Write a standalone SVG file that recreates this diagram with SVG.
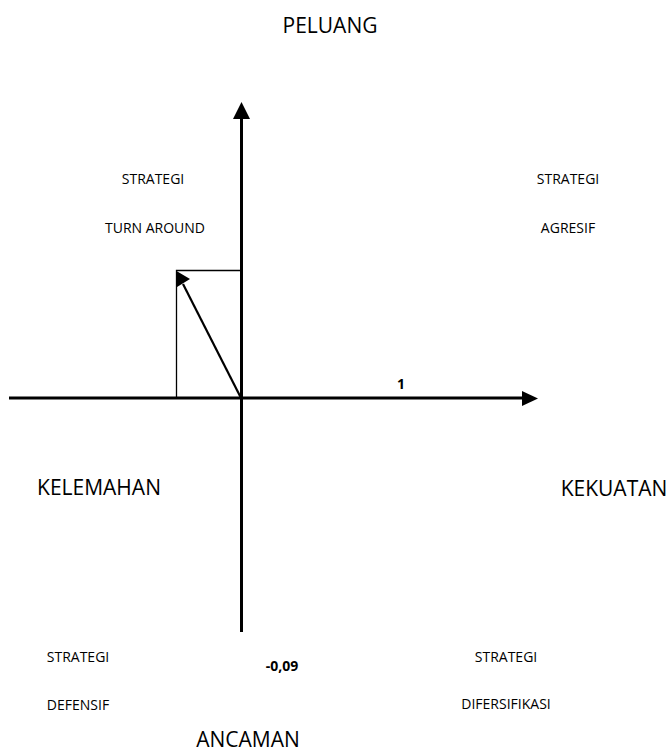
<svg xmlns="http://www.w3.org/2000/svg" width="670" height="752" viewBox="0 0 670 752">
<style>
text{font-family:"Open Sans","Liberation Sans",sans-serif;fill:#000;text-anchor:middle}
.s{font-size:14px}
.l{font-size:21px}
.b{font-size:14px;font-weight:bold}
.ax{stroke:#000;stroke-width:3;fill:none}
.thin{stroke:#000;stroke-width:1.3;fill:none}
</style>
<g id="connectors">
<line class="ax" x1="9" y1="398" x2="522" y2="398"/>
<path d="M522,391L538,398.5L522,406z" fill="#000"/>
<line class="ax" x1="241.5" y1="632" x2="241.5" y2="119"/>
<path d="M233,119L241.5,102L250,119z" fill="#000"/>
<polyline class="thin" points="176.5,398 176.5,270.5 241,270.5"/>
<line x1="241" y1="398" x2="183" y2="284" stroke="#000" stroke-width="2.2"/>
<path d="M176.5,271L190,279L177,287z" fill="#000"/>
</g>
<g id="labels">
<text class="l" x="330" y="33">PELUANG</text>
<text class="s" x="153" y="184">STRATEGI</text>
<text class="s" x="155" y="233">TURN AROUND</text>
<text class="s" x="568" y="184">STRATEGI</text>
<text class="s" x="568" y="233">AGRESIF</text>
<text class="b" x="401" y="389">1</text>
<text class="l" x="99" y="495">KELEMAHAN</text>
<text class="l" x="614" y="496">KEKUATAN</text>
<text class="s" x="78" y="662">STRATEGI</text>
<text class="s" x="78" y="710">DEFENSIF</text>
<text class="b" x="282" y="671">-0,09</text>
<text class="s" x="506" y="662">STRATEGI</text>
<text class="s" x="506" y="709">DIFERSIFIKASI</text>
<text class="l" x="248" y="747">ANCAMAN</text>
</g>
</svg>
